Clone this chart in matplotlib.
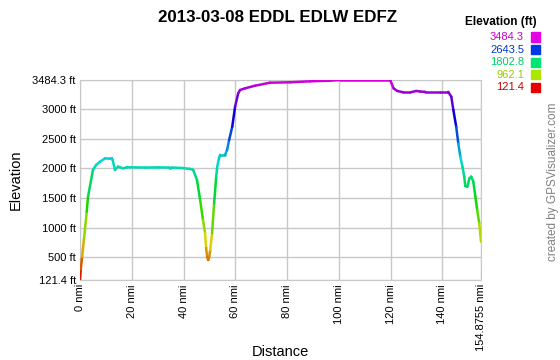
import colorsys

import numpy as np
import matplotlib

matplotlib.use("Agg")
import matplotlib.pyplot as plt
from matplotlib.collections import LineCollection

plt.rcParams["font.family"] = ["Liberation Sans", "DejaVu Sans"]

# track profile (nmi, ft)
DIST = [0, 0.3, 0.8, 1.5, 2.6, 3.1, 5.0, 6.2, 7.7, 9.7, 11.3, 12.3, 12.6, 13.5,
        14.7, 16.6, 18.2, 25.0, 30.0, 34.5, 34.9, 35.5, 39.4, 42.5, 43.7, 45.2,
        46.4, 47.5, 48.3, 48.7, 49.1, 49.5, 49.9, 50.3, 51.0, 51.8, 52.6, 53.0,
        53.7, 54.1, 56.0, 56.8, 57.6, 58.8, 59.9, 61.1, 61.8, 63.8, 67.6, 73.4,
        81.2, 88.9, 96.6, 100.5, 119.8, 121.1, 122.5, 124.9, 127.6, 129.9, 131.4,
        133.4, 139.0, 142.2, 143.4, 144.2, 145.3, 146.1, 146.9, 147.7, 148.4,
        148.8, 149.6, 150.4, 151.1, 151.9, 152.7, 153.4, 154.2, 154.8755]
ELEV = [121.4, 300, 510, 795, 1270, 1523, 1972, 2055, 2110, 2168, 2160, 2168,
        2140, 1972, 2028, 2000, 2017, 2012, 2015, 2012, 1995, 2012, 2005, 1990,
        1972, 1800, 1467, 1130, 912, 660, 514, 458, 514, 627, 907, 1410, 1860,
        2028, 2170, 2224, 2224, 2308, 2476, 2700, 3036, 3260, 3316, 3345, 3388,
        3439, 3446, 3462, 3473, 3484.3, 3484.3, 3345, 3300, 3277, 3277, 3300,
        3290, 3285, 3285, 3285, 3204, 2980, 2700, 2420, 2195, 2028, 1860, 1703,
        1690, 1832, 1860, 1775, 1523, 1300, 1075, 765]

EMIN, EMAX = 121.4, 3484.3
XTICKS = [0, 20, 40, 60, 80, 100, 120, 140, 154.8755]
XLABELS = ["0 nmi", "20 nmi", "40 nmi", "60 nmi", "80 nmi", "100 nmi",
           "120 nmi", "140 nmi", "154.8755 nmi"]
YTICKS = [121.4, 500, 1000, 1500, 2000, 2500, 3000, 3484.3]
YLABELS = ["121.4 ft", "500 ft", "1000 ft", "1500 ft", "2000 ft", "2500 ft",
           "3000 ft", "3484.3 ft"]
LEGEND_VALS = [3484.3, 2643.5, 1802.8, 962.1, 121.4]


def elev_color(v, val=0.85):
    f = (v - EMIN) / (EMAX - EMIN)
    return colorsys.hsv_to_rgb(f * 300 / 360, 1.0, val)


fig = plt.figure(figsize=(5.6, 3.6), dpi=100)
ax = fig.add_axes([80 / 560, 1 - 280 / 360, 401 / 560, 200 / 360])

pts = np.column_stack([DIST, ELEV])
segs = np.stack([pts[:-1], pts[1:]], axis=1)
cols = [elev_color((a + b) / 2) for a, b in zip(ELEV[:-1], ELEV[1:])]
ax.add_collection(LineCollection(segs, colors=cols, linewidths=1.8,
                                 capstyle="round", joinstyle="round", zorder=3))

ax.set_xlim(0, 154.8755)
ax.set_ylim(EMIN, EMAX)
ax.set_xticks(XTICKS)
ax.set_xticklabels(XLABELS, rotation=90, fontsize=8)
ax.set_yticks(YTICKS)
ax.set_yticklabels(YLABELS, fontsize=8)
ax.tick_params(length=0, pad=3)
ax.grid(True, color="#c8c8c8", linewidth=1)
for spine in ax.spines.values():
    spine.set_color("#c8c8c8")
ax.set_xlabel("Distance", fontsize=10.5, va="center")
ax.xaxis.set_label_coords(0.5, -72 / 200)
ax.set_ylabel("Elevation", fontsize=10.5, va="center")
ax.yaxis.set_label_coords(-64 / 401, 0.5)

fig.text(278 / 560, 1 - 17 / 360, "2013-03-08 EDDL EDLW EDFZ", ha="center",
         va="center", fontsize=12.2, fontweight="bold")

# colour key
fig.text(537 / 560, 1 - 22 / 360, "Elevation (ft)", ha="right", va="center",
         fontsize=8.5, fontweight="bold")
for i, v in enumerate(LEGEND_VALS):
    y = 1 - (37 + i * 12.6) / 360
    fig.text(524 / 560, y, f"{v:.1f}", ha="right", va="center", fontsize=8,
             color=elev_color(v, 0.8))
    fig.patches.append(plt.Rectangle((531 / 560, y - 4.5 / 360), 9 / 560, 9 / 360,
                                     transform=fig.transFigure,
                                     color=elev_color(v, 0.9)))

fig.text(553 / 560, 1 - 182 / 360, "created by GPSVisualizer.com", rotation=90,
         ha="center", va="center", fontsize=8.5, color="#808080")

fig.savefig("out.png", dpi=100)
